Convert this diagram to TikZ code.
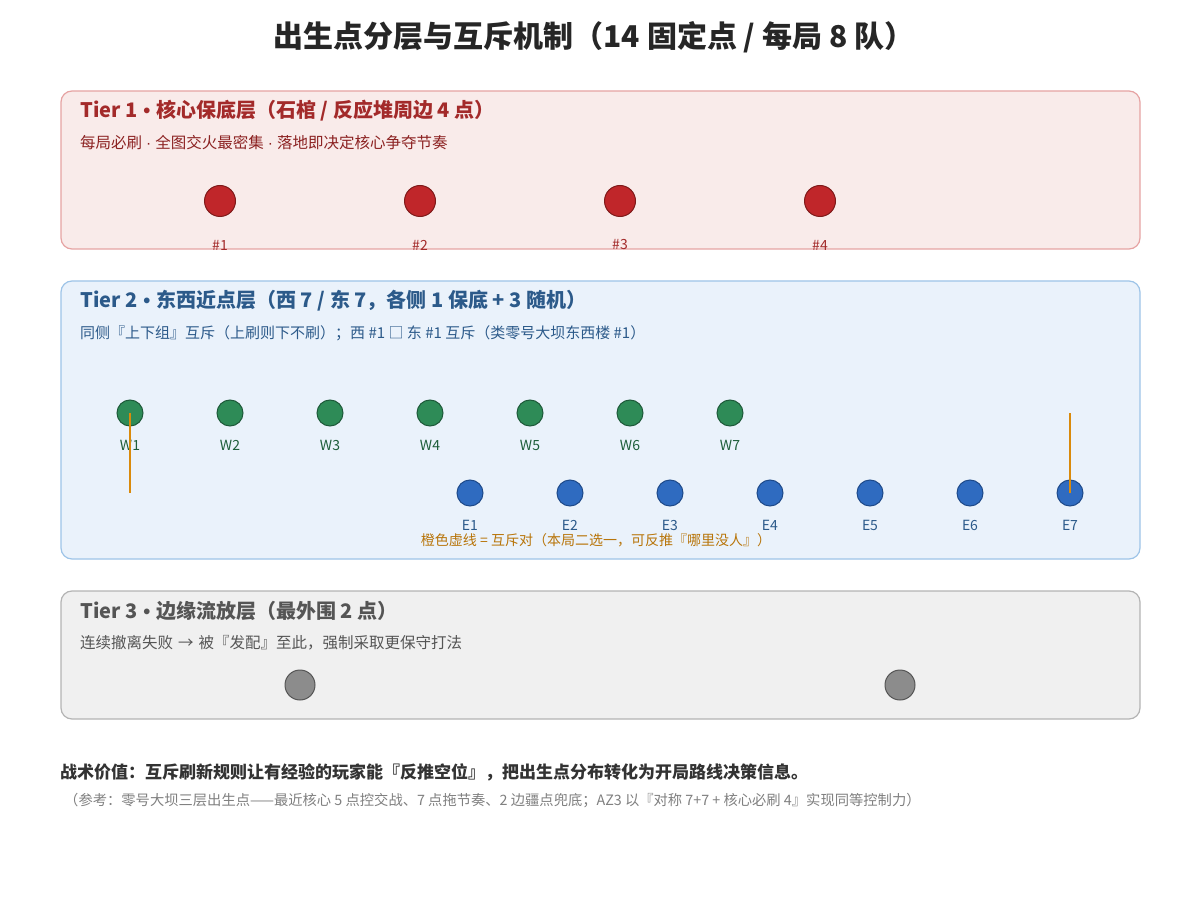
\documentclass[tikz,border=0pt]{standalone}
\usepackage{fontspec}
\setmainfont{Noto Sans CJK SC}
\newfontfamily\latn{Liberation Sans}
\newcommand{\bul}{\hspace{6pt}{\latn\textbullet}\hspace{6pt}}
\newcommand{\mdot}{\hspace{4pt}{\latn\textperiodcentered}\hspace{4pt}}
\newcommand{\arr}{\hspace{5pt}→\hspace{5pt}}
\begin{document}
\begin{tikzpicture}[x=1pt,y=-1pt,
  tier/.style={rounded corners=11pt, line width=1.2pt},
  ttitle/.style={anchor=west, font=\fontsize{20}{23}\selectfont\bfseries, inner sep=0pt},
  tsub/.style={anchor=west, font=\fontsize{15}{17}\selectfont, inner sep=0pt},
  dot/.style={circle, minimum size=#1, inner sep=0pt, line width=1pt},
  lbl/.style={font=\fontsize{14}{16}\selectfont, inner sep=0pt},
]
\definecolor{redfill}{HTML}{F9EBEA}
\definecolor{redline}{HTML}{E6A3A3}
\definecolor{redtxt}{HTML}{A32A2A}
\definecolor{redsub}{HTML}{8C2222}
\definecolor{reddot}{HTML}{C0262A}
\definecolor{reddotb}{HTML}{7F1A1A}
\definecolor{bluefill}{HTML}{EAF2FB}
\definecolor{blueline}{HTML}{9EC4E8}
\definecolor{bluetxt}{HTML}{2C5A8A}
\definecolor{bluedot}{HTML}{2F6BC0}
\definecolor{bluedotb}{HTML}{1E4A8A}
\definecolor{greendot}{HTML}{2E8B57}
\definecolor{greendotb}{HTML}{1E5A3A}
\definecolor{greentxt}{HTML}{1E5E3A}
\definecolor{grayfill}{HTML}{F0F0F0}
\definecolor{grayline}{HTML}{B4B4B4}
\definecolor{graytxt}{HTML}{555555}
\definecolor{graydot}{HTML}{8C8C8C}
\definecolor{orangeln}{HTML}{D98A0C}
\definecolor{orangetxt}{HTML}{B8750A}
\useasboundingbox[fill=white] (0,0) rectangle (1200,920);

\node[font=\fontsize{30}{34}\selectfont\bfseries, text=black!85] (title) at (594,37) {出生点分层与互斥机制（14 固定点 / 每局 8 队）};

% Tier 1
\draw[tier, fill=redfill, draw=redline] (61,91) rectangle (1140,249);
\node[ttitle, text=redtxt] (t1) at (80,111) {Tier 1\bul 核心保底层（石棺 / 反应堆周边 4 点）};
\node[tsub, text=redsub, font=\fontsize{15.5}{17}\selectfont] (s1) at (80,143) {每局必刷\mdot 全图交火最密集\mdot 落地即决定核心争夺节奏};
\foreach \i/\x in {1/220,2/420,3/620,4/820}{
  \node[dot=31pt, fill=reddot, draw=reddotb] (r\i) at (\x,201) {};
  \node[lbl, text=redtxt] (rl\i) at (\x,245) {\#\i};
}

% Tier 2
\draw[tier, fill=bluefill, draw=blueline] (61,281) rectangle (1140,559);
\node[ttitle, text=bluetxt] (t2) at (80,301) {Tier 2\bul 东西近点层（西 7 / 东 7，各侧 1 保底 + 3 随机）};
\node[tsub, text=bluetxt] (s2) at (80,333) {同侧『上下组』互斥（上刷则下不刷）；西 \#1 □ 东 \#1 互斥（类零号大坝东西楼 \#1）};
\foreach \i in {1,...,7}{
  \node[dot=26pt, fill=greendot, draw=greendotb] (w\i) at ({30+100*\i},413) {};
  \node[lbl, text=greentxt] (wl\i) at ({30+100*\i},445) {W\i};
  \node[dot=26pt, fill=bluedot, draw=bluedotb] (e\i) at ({370+100*\i},493) {};
  \node[lbl, text=bluetxt] (el\i) at ({370+100*\i},525) {E\i};
}
\draw[orangeln, line width=1.5pt] (w1.center) -- (w1.center |- e1.center);
\draw[orangeln, line width=1.5pt] (e7.center |- w1.center) -- (e7.center);
\node[lbl, text=orangetxt] (cap) at (596,540) {橙色虚线 = 互斥对（本局二选一，可反推『哪里没人』）};

% Tier 3
\draw[tier, fill=grayfill, draw=grayline] (61,591) rectangle (1140,719);
\node[ttitle, text=graytxt] (t3) at (80,611) {Tier 3\bul 边缘流放层（最外围 2 点）};
\node[tsub, text=graytxt, font=\fontsize{15.5}{17}\selectfont] (s3) at (80,643) {连续撤离失败\arr 被『发配』至此，强制采取更保守打法};
\node[dot=30pt, fill=graydot, draw=graytxt] (g1) at (300,685) {};
\node[dot=30pt, fill=graydot, draw=graytxt] (g2) at (900,685) {};

% Footer
\node[anchor=west, inner sep=0pt, font=\fontsize{17}{19}\selectfont\bfseries, text=black!80] (val) at (60,772) {战术价值：互斥刷新规则让有经验的玩家能『反推空位』，把出生点分布转化为开局路线决策信息。};
\node[anchor=west, inner sep=0pt, font=\fontsize{14.3}{16}\selectfont, text=black!50] (ref) at (64,801) {（参考：零号大坝三层出生点——最近核心 5 点控交战、7 点拖节奏、2 边疆点兜底；AZ3 以『对称 7+7 + 核心必刷 4』实现同等控制力）};
\end{tikzpicture}
\end{document}
